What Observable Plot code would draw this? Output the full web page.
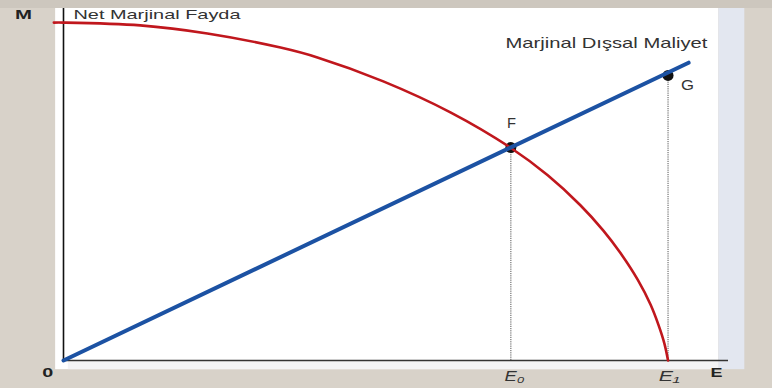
<!DOCTYPE html>
<html>
<head>
<meta charset="utf-8">
<script src="https://cdn.jsdelivr.net/npm/d3@7"></script>
<script src="https://cdn.jsdelivr.net/npm/@observablehq/plot@0.6"></script>
<style>
  html, body { margin: 0; padding: 0; background: #d8d2c9; }
  #chart svg { display: block; }
</style>
</head>
<body>
<div id="chart"></div>
<script>
// Net Marjinal Fayda curve (red)
const benefitX = [-1.6, 0, 12.7, 23.8, 35.9, 42, 52.9, 64, 73.9, 80.1, 85.5, 89.3, 92.1, 95, 97.1, 98.4, 99.4, 100];
const benefitY = [96, 96, 95.2, 92.9, 88.9, 86.1, 79.3, 70.5, 60.5, 52.6, 44.1, 36.9, 30.6, 22.9, 15.9, 10.2, 4.8, 0];
// Marjinal Dışsal Maliyet line (blue)
const costX = [0, 103.4];
const costY = [0, 84.6];
// Points
const pointNames = ["F", "G"];
const pointX = [74, 100];
const pointY = [60.5, 81];
// Axis labels
const axisLabels = ["M", "0", "E"];
const axisLabelX = [-6.6, -2.6, 108];
const axisLabelY = [98.3, -3.4, -3.4];
const axisLabelWidth = [17, 11, 12];
const tickLabels = ["E₀", "E₁"];
const tickLabelX = [74.6, 100.2];
const tickLabelY = [-4.6, -4.6];
const tickLabelWidth = [20, 21];
// Curve titles
const curveTitles = ["Net Marjinal Fayda", "Marjinal Dışsal Maliyet"];
const curveTitleX = [1.65, 73.1];
const curveTitleY = [98.3, 90.1];
const curveTitleWidth = [167, 202];
const curveTitleSize = [13.5, 14.5];
// Point labels
const pointLabelX = [74.1, 103.2];
const pointLabelY = [67.3, 78.1];
const pointLabelWidth = [9, 13];

const benefit = benefitX.map((x, i) => ({x, y: benefitY[i]}));
const cost = costX.map((x, i) => ({x, y: costY[i]}));
const points = pointNames.map((n, i) => ({n, x: pointX[i], y: pointY[i], lx: pointLabelX[i], ly: pointLabelY[i]}));
const axisText = axisLabels.map((t, i) => ({t, x: axisLabelX[i], y: axisLabelY[i]}));
const tickText = tickLabels.map((t, i) => ({t, x: tickLabelX[i], y: tickLabelY[i]}));
const titles = curveTitles.map((t, i) => ({t, x: curveTitleX[i], y: curveTitleY[i], s: curveTitleSize[i]}));

const widths = new Map([
  ...curveTitles.map((t, i) => [t, curveTitleWidth[i]]),
  ...axisLabels.map((t, i) => [t, axisLabelWidth[i]]),
  ...tickLabels.map((t, i) => [t, tickLabelWidth[i]]),
  ...pointNames.map((t, i) => [t, pointLabelWidth[i]])
]);

const font = "'Liberation Sans', Arial, sans-serif";

const svg = Plot.plot({
  width: 772,
  height: 388,
  marginLeft: 63,
  marginRight: 44,
  marginTop: 8,
  marginBottom: 28,
  x: {domain: [0, 110], axis: null},
  y: {domain: [0, 100], axis: null},
  style: {background: "#d8d2c9", fontFamily: font, overflow: "visible"},
  marks: [
    // top band
    Plot.rect([0], {x1: -10.5, x2: 117.3, y1: 100, y2: 102.3, fill: "#cdc7be"}),
    // white panel
    Plot.rect([0], {x1: -1.3, x2: 108.4, y1: -2.6, y2: 100, fill: "#ffffff"}),
    // bluish right strip
    Plot.rect([0], {x1: 108.4, x2: 112.7, y1: -2.6, y2: 100, fill: "#e3e7f0"}),
    // light strip under the axis
    Plot.rect([0], {x1: 0.8, x2: 108.4, y1: -2.6, y2: 0, fill: "#f3f3f5"}),
    // axes
    Plot.ruleX([0], {y1: 0, y2: 100, stroke: "#111", strokeWidth: 1.6}),
    Plot.ruleY([0], {x1: 0, x2: 110, stroke: "#333", strokeWidth: 1.6}),
    // dotted drop lines
    Plot.ruleX(points, {x: "x", y1: 0, y2: "y", stroke: "#555", strokeWidth: 1, strokeDasharray: "1.2,1"}),
    // points (under the lines)
    Plot.dot(points, {x: "x", y: "y", r: 5.5, fill: "#111"}),
    // curves
    Plot.line(benefit, {x: "x", y: "y", stroke: "#c0171d", strokeWidth: 2.6, curve: "catmull-rom"}),
    Plot.line(cost, {x: "x", y: "y", stroke: "#1c52a3", strokeWidth: 4}),
    // point labels
    Plot.text(points, {x: "lx", y: "ly", text: "n", fontSize: 14, fill: "#333"}),
    // axis labels
    Plot.text(axisText, {x: "x", y: "y", text: "t", fontSize: 13, fontWeight: "bold", fill: "#222"}),
    Plot.text(tickText, {x: "x", y: "y", text: "t", fontSize: 14, fontStyle: "italic", fill: "#333"}),
    // curve titles
    Plot.text(titles, {x: "x", y: "y", text: "t", fontSize: d => d.s, textAnchor: "start", fill: "#333"})
  ]
});

// stretch labels horizontally as in the reference
d3.select(svg).selectAll("text").each(function() {
  const w = widths.get(this.textContent);
  if (w !== undefined) {
    d3.select(this).attr("textLength", w).attr("lengthAdjust", "spacingAndGlyphs");
  }
});

document.getElementById("chart").appendChild(svg);
</script>
</body>
</html>
